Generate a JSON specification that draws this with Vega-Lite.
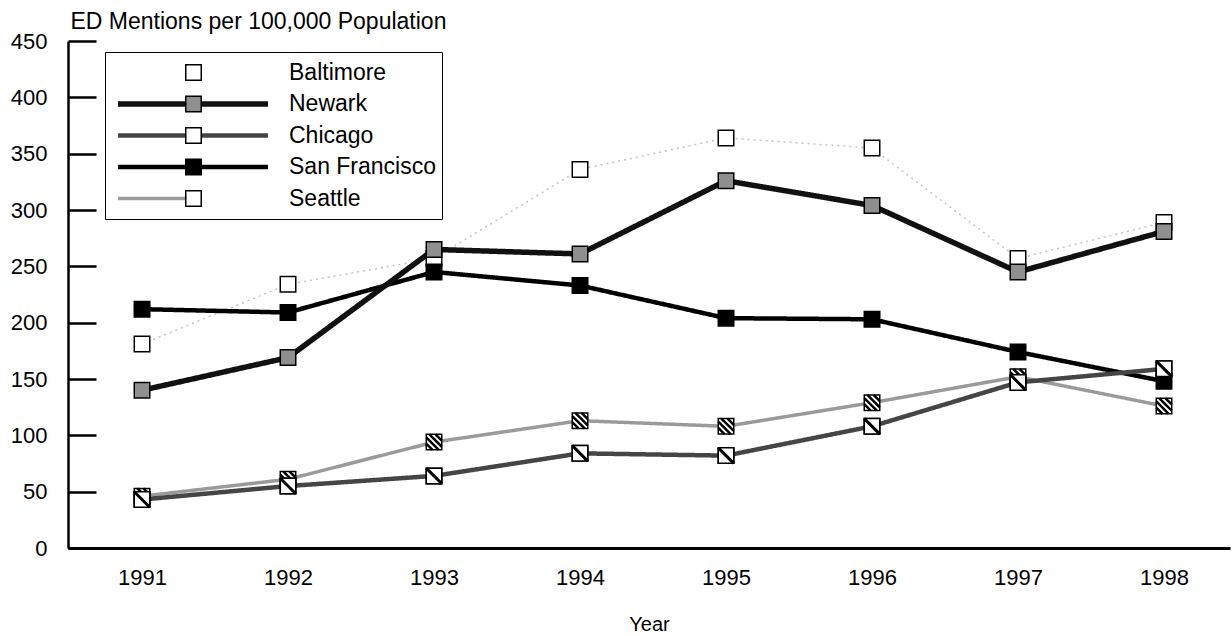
{
  "$schema": "https://vega.github.io/schema/vega-lite/v6.json",
  "width": 1162,
  "height": 507,
  "autosize": {"type": "none"},
  "padding": {"left": 68, "top": 41, "right": 2, "bottom": 88},
  "background": "white",
  "config": {"view": {"stroke": null}, "font": "Liberation Sans"},
  "data": {
    "values": [
      {"city": "Baltimore", "year": 1991, "value": 181},
      {"city": "Baltimore", "year": 1992, "value": 234},
      {"city": "Baltimore", "year": 1993, "value": 257},
      {"city": "Baltimore", "year": 1994, "value": 336},
      {"city": "Baltimore", "year": 1995, "value": 364},
      {"city": "Baltimore", "year": 1996, "value": 355},
      {"city": "Baltimore", "year": 1997, "value": 257},
      {"city": "Baltimore", "year": 1998, "value": 289},
      {"city": "Seattle", "year": 1991, "value": 46},
      {"city": "Seattle", "year": 1992, "value": 61},
      {"city": "Seattle", "year": 1993, "value": 94},
      {"city": "Seattle", "year": 1994, "value": 113},
      {"city": "Seattle", "year": 1995, "value": 108},
      {"city": "Seattle", "year": 1996, "value": 129},
      {"city": "Seattle", "year": 1997, "value": 152},
      {"city": "Seattle", "year": 1998, "value": 126},
      {"city": "San Francisco", "year": 1991, "value": 212},
      {"city": "San Francisco", "year": 1992, "value": 209},
      {"city": "San Francisco", "year": 1993, "value": 245},
      {"city": "San Francisco", "year": 1994, "value": 233},
      {"city": "San Francisco", "year": 1995, "value": 204},
      {"city": "San Francisco", "year": 1996, "value": 203},
      {"city": "San Francisco", "year": 1997, "value": 174},
      {"city": "San Francisco", "year": 1998, "value": 148},
      {"city": "Newark", "year": 1991, "value": 140},
      {"city": "Newark", "year": 1992, "value": 169},
      {"city": "Newark", "year": 1993, "value": 265},
      {"city": "Newark", "year": 1994, "value": 261},
      {"city": "Newark", "year": 1995, "value": 326},
      {"city": "Newark", "year": 1996, "value": 304},
      {"city": "Newark", "year": 1997, "value": 245},
      {"city": "Newark", "year": 1998, "value": 281},
      {"city": "Chicago", "year": 1991, "value": 43},
      {"city": "Chicago", "year": 1992, "value": 55},
      {"city": "Chicago", "year": 1993, "value": 64},
      {"city": "Chicago", "year": 1994, "value": 84},
      {"city": "Chicago", "year": 1995, "value": 82},
      {"city": "Chicago", "year": 1996, "value": 108},
      {"city": "Chicago", "year": 1997, "value": 147},
      {"city": "Chicago", "year": 1998, "value": 159}
    ]
  },
  "encoding": {
    "x": {
      "field": "year",
      "type": "quantitative",
      "scale": {"domain": [1990.493, 1998.452], "nice": false, "zero": false},
      "axis": {
        "title": "Year",
        "values": [1991, 1992, 1993, 1994, 1995, 1996, 1997, 1998],
        "format": "d",
        "ticks": false,
        "grid": false,
        "labelFlush": false,
        "domainColor": "black",
        "domainWidth": 3,
        "labelFontSize": 22,
        "labelColor": "black",
        "labelPadding": 19,
        "titleFontSize": 20,
        "titleFontWeight": "normal",
        "titleColor": "black",
        "titleBaseline": "alphabetic",
        "titleY": 82
      }
    },
    "y": {
      "field": "value",
      "type": "quantitative",
      "scale": {"domain": [0, 450], "nice": false},
      "axis": {
        "title": "ED Mentions per 100,000 Population",
        "values": [0, 50, 100, 150, 200, 250, 300, 350, 400, 450],
        "grid": false,
        "labelFlush": false,
        "domainColor": "black",
        "domainWidth": 2.5,
        "tickColor": "black",
        "tickSize": -28,
        "tickWidth": 2.5,
        "labelFontSize": 22,
        "labelColor": "black",
        "labelPadding": 49,
        "titleAngle": 0,
        "titleAlign": "left",
        "titleBaseline": "alphabetic",
        "titleX": 2,
        "titleY": -13,
        "titleFontSize": 23,
        "titleFontWeight": "normal",
        "titleColor": "black"
      }
    }
  },
  "layer": [
    {
      "mark": {"type": "line", "strokeCap": "butt", "strokeJoin": "round"},
      "encoding": {
        "stroke": {
          "field": "city",
          "type": "nominal",
          "scale": {
            "domain": ["Baltimore", "Newark", "Chicago", "San Francisco", "Seattle"],
            "range": ["#c4c4c4", "#111111", "#454545", "#000000", "#9a9a9a"]
          },
          "legend": {
            "title": null,
            "orient": "top-left",
            "offset": 11,
            "padding": 5,
            "clipHeight": 31,
            "rowPadding": 0.5,
            "symbolType": "stroke",
            "symbolSize": 22500,
            "symbolOffset": 31,
            "labelOpacity": 0,
            "labelFontSize": 2,
            "labelOffset": 40,
            "encode": {
              "symbols": {
                "update": {
                  "strokeWidth": {"signal": "datum.value === 'Newark' ? 5.5 : datum.value === 'Chicago' ? 4 : datum.value === 'San Francisco' ? 4.5 : datum.value === 'Seattle' ? 2.5 : 0"},
                  "shape": {"signal": "datum.value === 'Seattle' ? 'M-1,0L-0.1,0' : 'stroke'"},
                  "opacity": {"signal": "datum.value === 'Baltimore' ? 0 : 1"}
                }
              }
            }
          }
        },
        "strokeWidth": {
          "field": "city",
          "type": "nominal",
          "scale": {
            "type": "ordinal",
            "domain": ["Baltimore", "Newark", "Chicago", "San Francisco", "Seattle"],
            "range": [1.5, 5.5, 4.5, 4.5, 3.5]
          },
          "legend": null
        },
        "strokeDash": {
          "field": "city",
          "type": "nominal",
          "scale": {
            "domain": ["Baltimore", "Newark", "Chicago", "San Francisco", "Seattle"],
            "range": [[2, 4], [1, 0], [1, 0], [1, 0], [1, 0]]
          },
          "legend": null
        }
      }
    },
    {
      "mark": {"type": "point", "shape": "square", "filled": true, "size": 240, "stroke": "black", "strokeWidth": 1.5, "opacity": 1},
      "encoding": {
        "fill": {
          "field": "city",
          "type": "nominal",
          "scale": {
            "domain": ["Baltimore", "Newark", "Chicago", "San Francisco", "Seattle"],
            "range": ["#ffffff", "#8f8f8f", "#ffffff", "#000000", "#ffffff"]
          },
          "legend": {
            "title": null,
            "orient": "none",
            "legendX": 37,
            "legendY": 11,
            "padding": 5,
            "strokeColor": "black",
            "clipHeight": 31,
            "rowPadding": 0.5,
            "symbolType": "square",
            "symbolSize": 240,
            "symbolOffset": 72,
            "symbolStrokeColor": "black",
            "symbolStrokeWidth": 1.5,
            "labelFontSize": 23,
            "labelColor": "black",
            "labelOffset": 84
          }
        }
      }
    },
    {
      "transform": [{"filter": "datum.city === 'Seattle'"}],
      "mark": {"type": "point", "shape": "M0.2,-1L1,-0.2M-0.6,-1L1,0.6M-1,-0.6L0.6,1M-1,0.2L-0.2,1", "filled": false, "size": 240, "stroke": "black", "strokeWidth": 2.5, "opacity": 1}
    },
    {
      "transform": [{"filter": "datum.city === 'Chicago'"}],
      "mark": {"type": "point", "shape": "square", "filled": true, "fill": "white", "size": 240, "stroke": "black", "strokeWidth": 1.5, "opacity": 1}
    },
    {
      "transform": [{"filter": "datum.city === 'Chicago'"}],
      "mark": {"type": "point", "shape": "M-1,-1L1,1", "filled": false, "size": 240, "stroke": "black", "strokeWidth": 3, "opacity": 1}
    }
  ]
}
